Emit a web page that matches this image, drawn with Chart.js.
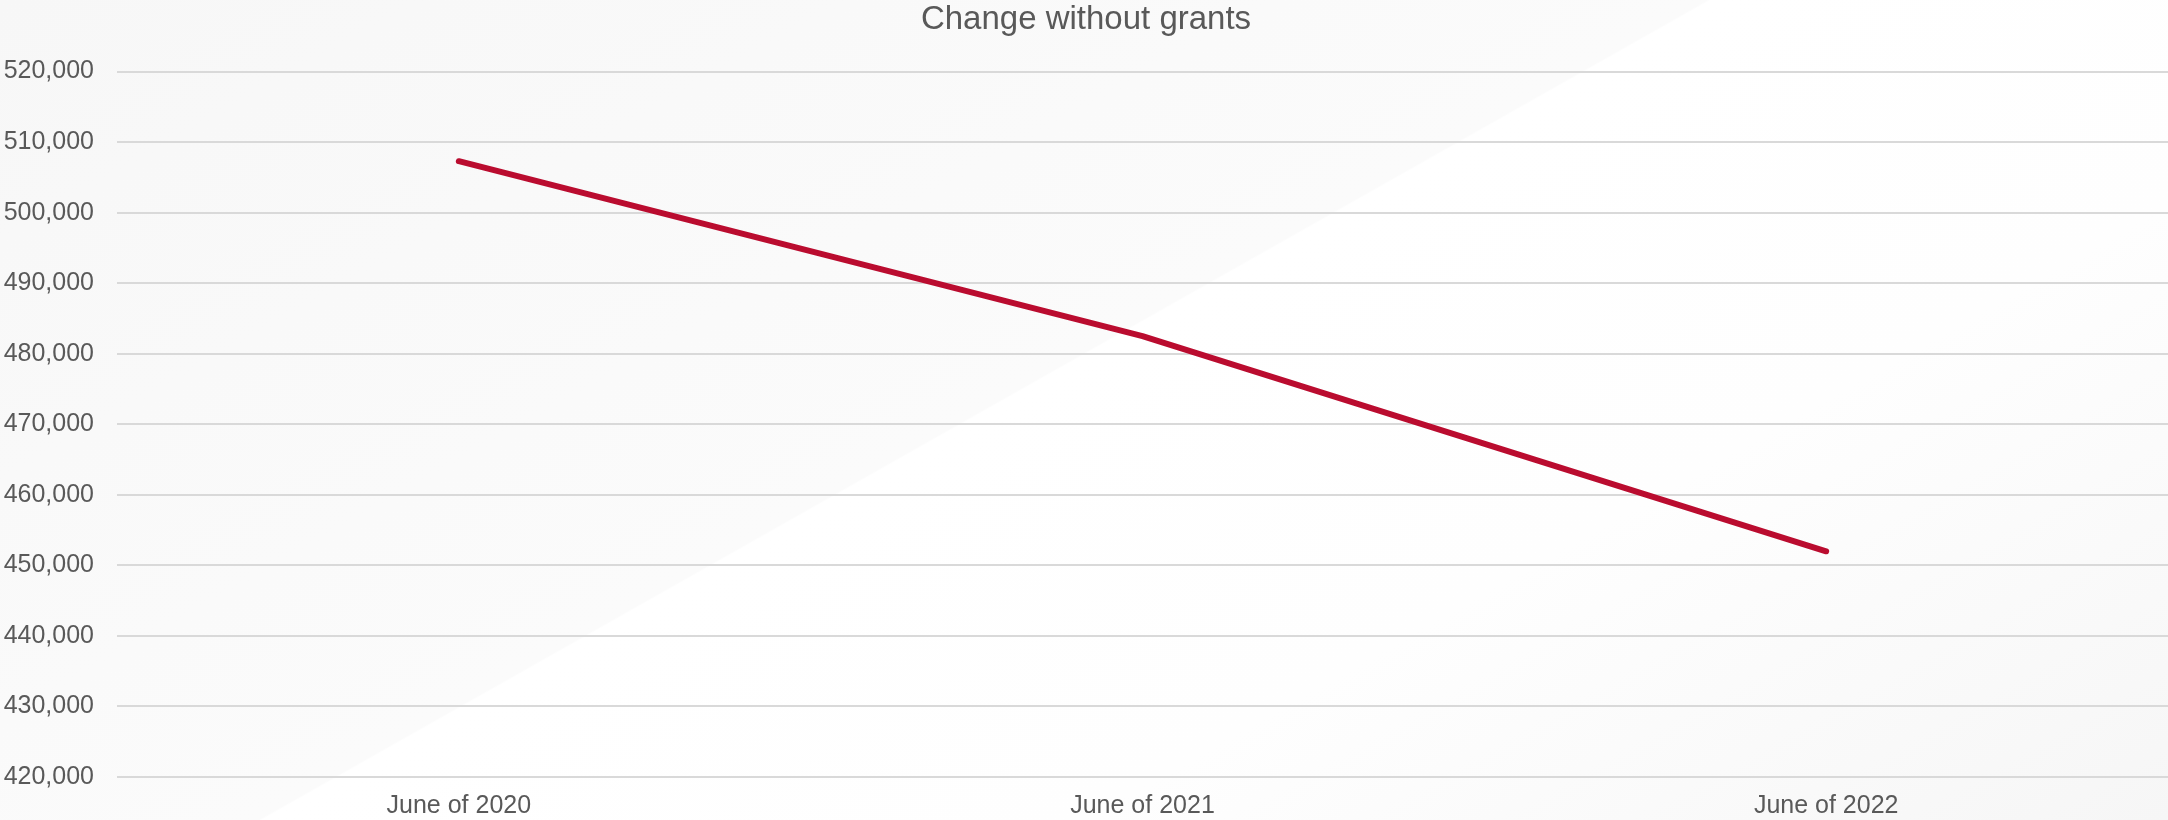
<!DOCTYPE html>
<html>
<head>
<meta charset="utf-8">
<script src="https://cdn.jsdelivr.net/npm/chart.js@4/dist/chart.umd.min.js"></script>
<style>
  html, body { margin: 0; padding: 0; }
  body {
    width: 2168px; height: 820px; overflow: hidden;
    background: linear-gradient(150.5deg, #f7f7f7 0%, #fbfbfb 47.2%, #ffffff 47.3%, #fefefe 70%, #f6f6f6 100%);
  }
  #wrap { position: relative; width: 2168px; height: 820px; }
</style>
</head>
<body>
<div id="wrap"><canvas id="chart"></canvas></div>
<script>
var categories = ['June of 2020', 'June of 2021', 'June of 2022'];
var withoutGrants = [507300, 482500, 452000];
var yMin = 420000;
var yMax = 520000;
var yStep = 10000;

var textColor = '#595959';
var gridColor = '#d9d9d9';
var lineColor = '#BA0C2F';
var fontFamily = "'Liberation Sans', Arial, sans-serif";

var ctx = document.getElementById('chart').getContext('2d');
var chart = new Chart(ctx, {
  type: 'line',
  data: {
    labels: categories,
    datasets: [{
      label: 'Change without grants',
      data: withoutGrants,
      borderColor: lineColor,
      backgroundColor: lineColor,
      borderWidth: 6,
      pointRadius: 0,
      tension: 0,
      borderCapStyle: 'round',
      borderJoinStyle: 'round'
    }]
  },
  options: {
    responsive: true,
    maintainAspectRatio: false,
    animation: false,
    layout: { padding: { left: 4, right: 0, top: 0, bottom: 0 } },
    plugins: {
      legend: { display: false },
      tooltip: { enabled: false },
      title: {
        display: true,
        text: 'Change without grants',
        color: textColor,
        font: { family: fontFamily, size: 33, weight: 'normal' },
        padding: { top: 0, bottom: 32 }
      }
    },
    scales: {
      x: {
        offset: true,
        grid: { display: false, drawTicks: false },
        border: { display: false },
        afterFit: function (scale) { scale.height = 43; },
        ticks: {
          color: textColor,
          font: { family: fontFamily, size: 25 },
          padding: 14,
          maxRotation: 0
        }
      },
      y: {
        min: yMin,
        max: yMax,
        grid: { color: gridColor, lineWidth: 2, drawTicks: false },
        border: { display: false },
        afterFit: function (scale) { scale.width = 113; },
        ticks: {
          stepSize: yStep,
          color: textColor,
          font: { family: fontFamily, size: 25 },
          padding: 23,
          callback: function (v) { return v.toLocaleString('en-US'); }
        }
      }
    }
  }
});
</script>
</body>
</html>
